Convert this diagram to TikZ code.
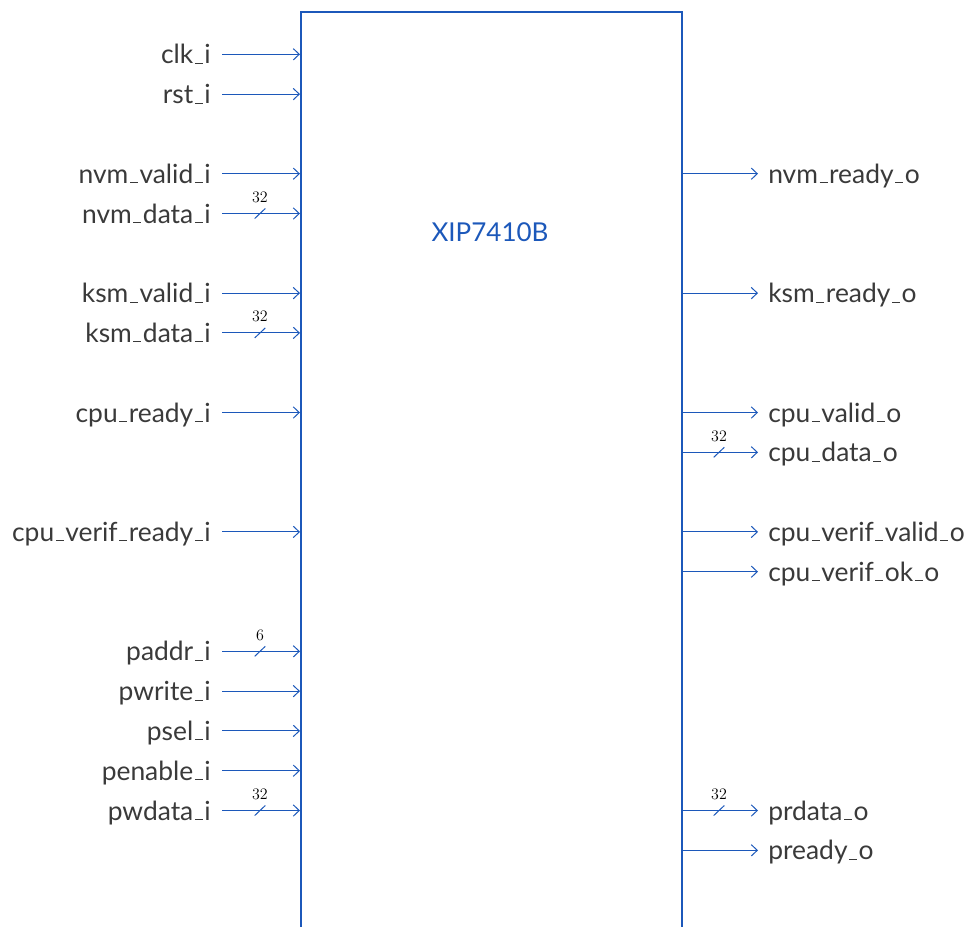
\documentclass[tikz,border=0pt]{standalone}
\usepackage{fontspec}
\setmainfont{Lato}
\usetikzlibrary{arrows.meta,calc}
\definecolor{wire}{RGB}{28,88,186}
\definecolor{ink}{RGB}{58,58,58}
\newcommand{\pinfont}{\fontsize{19.8}{22}\selectfont}
\newcommand{\titlefont}{\fontsize{19.5}{22}\selectfont}
\newcommand{\busfont}{\fontsize{13}{15}\selectfont}
% short underscore drawn as a rule
\newcommand{\us}{\kern.06em\vbox{\hrule width .3em height 0.8pt}\kern.06em}
\begin{document}
\begin{tikzpicture}[x=0.75pt,y=-0.75pt,
  sig/.style={draw=wire, line width=0.75pt, -{Straight Barb[length=4.5pt,width=8.5pt]}},
  slash/.style={draw=wire, line width=0.75pt},
  pinlabel/.style={text=ink, font=\pinfont, inner sep=0pt},
  buslabel/.style={text=black, font=\busfont, inner sep=0pt, anchor=base},
  block/.style={draw=wire, line width=1.5pt, fill=none, inner sep=0pt,
    minimum width=285.75pt, minimum height=720pt, anchor=north west}]
  \useasboundingbox (0,0) rectangle (969,926);
  \clip (0,0) rectangle (969,926);

  % the module body
  \node[block] (blk) at (300,11) {};
  \node[text=wire, font=\titlefont] (title) at (490,232) {XIP7410B};

  % input ports (row index / name)
  \foreach \n/\name in {1/clk\us i, 2/rst\us i, 4/nvm\us valid\us i, 5/nvm\us data\us i,
      7/ksm\us valid\us i, 8/ksm\us data\us i, 10/cpu\us ready\us i, 13/cpu\us verif\us ready\us i,
      16/paddr\us i, 17/pwrite\us i, 18/psel\us i, 19/penable\us i, 20/pwdata\us i} {
    \pgfmathsetmacro{\yy}{14.5+39.8*\n}
    \coordinate (li-\n) at (222,\yy);
    \node[pinlabel, anchor=base east] (ln-\n) at (211,\yy+9.5) {\name};
    \draw[sig] (li-\n) -- (li-\n -| blk.west);
  }

  % output ports (row index / name)
  \foreach \n/\name in {4/nvm\us ready\us o, 7/ksm\us ready\us o, 10/cpu\us valid\us o,
      11/cpu\us data\us o, 13/cpu\us verif\us valid\us o, 14/cpu\us verif\us ok\us o,
      20/prdata\us o, 21/pready\us o} {
    \pgfmathsetmacro{\yy}{14.5+39.8*\n}
    \coordinate (ro-\n) at (758,\yy);
    \node[pinlabel, anchor=base west] (rn-\n) at (768,\yy+9.5) {\name};
    \draw[sig] (ro-\n -| blk.east) -- (ro-\n);
  }

  % bus width marks on the inputs
  \foreach \n/\w in {5/32, 8/32, 16/6, 20/32} {
    \pgfmathsetmacro{\yy}{14.5+39.8*\n}
    \coordinate (lb-\n) at (260,\yy);
    \draw[slash] ($(lb-\n)+(-5.3,5)$) -- ($(lb-\n)+(5.3,-5)$);
    \node[buslabel] (lw-\n) at ($(lb-\n)+(0,-11)$) {$\w$};
  }

  % bus width marks on the outputs
  \foreach \n/\w in {11/32, 20/32} {
    \pgfmathsetmacro{\yy}{14.5+39.8*\n}
    \coordinate (rb-\n) at (719,\yy);
    \draw[slash] ($(rb-\n)+(-5.3,5)$) -- ($(rb-\n)+(5.3,-5)$);
    \node[buslabel] (rw-\n) at ($(rb-\n)+(0,-11)$) {$\w$};
  }
\end{tikzpicture}
\end{document}
